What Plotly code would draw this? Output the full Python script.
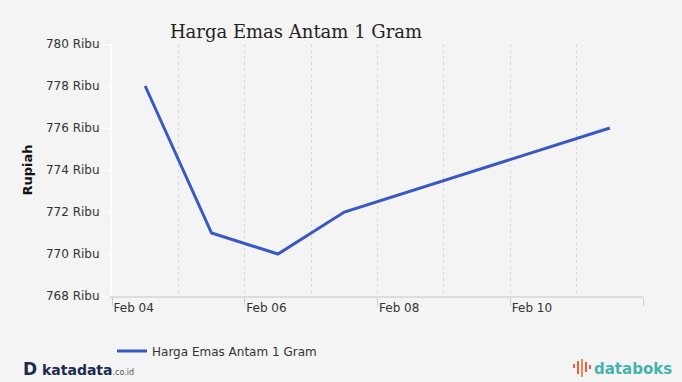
import plotly.graph_objects as go

# ---- data ----
dates = ["2020-02-04", "2020-02-05", "2020-02-06", "2020-02-07", "2020-02-11"]
prices = [778000, 771000, 770000, 772000, 776000]
series_name = "Harga Emas Antam 1 Gram"
y_tickvals = [768000, 770000, 772000, 774000, 776000, 778000, 780000]
y_ticktext = ["768 Ribu", "770 Ribu", "772 Ribu", "774 Ribu", "776 Ribu", "778 Ribu", "780 Ribu"]
x_range = ["2020-02-04", "2020-02-12"]

W, H = 682, 382
L, R, T, B = 112, 39, 44, 86
PW, PH = W - L - R, H - T - B

def px(x):
    return (x - L) / PW

def py(y):
    return (H - B - y) / PH

fig = go.Figure()
fig.add_trace(go.Scatter(
    x=dates, y=prices, name=series_name, mode="lines",
    xperiod=86400000, xperiodalignment="middle",
    line=dict(color="#3a58c4", width=3),
))

font_main = "DejaVu Sans"
grid_dash = "3px,3px"
fig.update_layout(
    width=W, height=H,
    margin=dict(l=L, r=R, t=T, b=B),
    paper_bgcolor="#f4f4f4", plot_bgcolor="#f4f4f4",
    font=dict(family=font_main, size=12, color="#333333"),
    title=dict(text=series_name, xref="container", x=296 / W, xanchor="center",
               yref="container", y=1 - 32 / H, yanchor="middle",
               font=dict(family="DejaVu Serif", size=18, color="#222222")),
    showlegend=True,
    legend=dict(orientation="h", x=0, xanchor="left", y=py(351), yanchor="middle",
                bgcolor="rgba(0,0,0,0)", font=dict(size=12, color="#333333")),
    xaxis=dict(
        type="date", range=x_range, tick0=x_range[0], dtick=2 * 86400000,
        tickformat="%b %d", ticklabelposition="outside right",
        ticks="outside", ticklen=8, tickcolor="#cccccc", tickwidth=1,
        showline=True, linecolor="#dddddd", linewidth=2,
        showgrid=True, gridcolor="#d8d8d8", griddash=grid_dash, gridwidth=1,
        minor=dict(dtick=86400000, showgrid=True, gridcolor="#d8d8d8", griddash=grid_dash, ticks=""),
        zeroline=False, tickfont=dict(size=12, color="#333333"),
    ),
    yaxis=dict(
        range=[768000, 780000], tickvals=y_tickvals, ticktext=y_ticktext,
        ticks="outside", ticklen=8, tickcolor="#ffffff", tickwidth=1,
        showline=True, linecolor="#ffffff", linewidth=2,
        showgrid=False, zeroline=False,
        title=dict(text="<b>Rupiah</b>", font=dict(size=13, color="#111111"), standoff=10),
        tickfont=dict(size=12, color="#333333"),
    ),
)

# logos as text
fig.add_annotation(xref="paper", yref="paper", x=px(21), y=py(369), xanchor="left", yanchor="middle",
                   showarrow=False,
                   text="<b><span style='font-size:17px'>D</span> katadata</b><span style='font-size:8px;color:#555'>.co.id</span>",
                   font=dict(family=font_main, size=14, color="#1c2b4e"))
fig.add_annotation(xref="paper", yref="paper", x=px(592), y=py(369), xanchor="left", yanchor="middle",
                   showarrow=False, text="<b>databoks</b>",
                   font=dict(family=font_main, size=15, color="#45b3ad"))
# databoks icon bars
bars = [(573, 364, 368, "#e8604c"), (577, 361, 374, "#e8604c"), (581, 359, 377, "#f08c3c"),
        (585, 362, 372, "#e8604c"), (589, 365, 369, "#e8604c")]
for bx, y0, y1, c in bars:
    fig.add_shape(type="rect", xref="paper", yref="paper", x0=px(bx), x1=px(bx + 2),
                  y0=py(y1), y1=py(y0), fillcolor=c, line=dict(width=0))

fig.write_html("out.html")
